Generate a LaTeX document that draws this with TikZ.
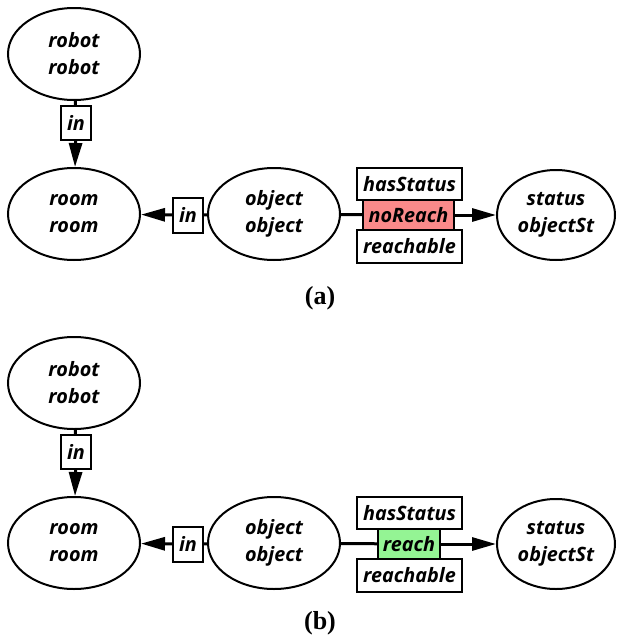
\documentclass[tikz,border=0pt]{standalone}
\usepackage{fontspec}
\usepackage{xcolor}
\usepackage{tikz}
\usetikzlibrary{shapes.geometric,arrows.meta}
\setmainfont{Liberation Serif}
\newfontfamily\labelfont{Open Sans}

\definecolor{noreachred}{RGB}{250,138,138}
\definecolor{reachgreen}{RGB}{148,244,148}

\tikzset{
    entity/.style={draw, ellipse, line width=2pt, minimum width=132pt, minimum height=92pt,
        inner sep=0pt, align=center, font=\labelfont\bfseries\itshape\fontsize{19.8}{27}\selectfont},
    relbox/.style={draw, rectangle, line width=2pt, inner sep=0pt, align=center,
        font=\labelfont\bfseries\itshape\fontsize{19.8}{22}\selectfont},
    edge/.style={line width=3pt},
    arrowedge/.style={line width=3pt, -{Triangle[length=24pt, width=13pt]}},
    caption/.style={font=\bfseries\fontsize{26}{28}\selectfont}
}

\begin{document}
\begin{tikzpicture}[x=1pt, y=-1pt]
        \useasboundingbox (0,0) rectangle (623,640);

        % Panel (a)
        \node [entity] (robotA) at (74, 54) {robot\\robot};
        \node [entity] (roomA) at (74, 214) {room\\room};
        \node [entity] (objectA) at (274, 214) {object\\object};
        \node [entity, minimum width=118pt, minimum height=90pt] (statusA) at (556, 215) {status\\objectSt};

        \node [relbox, minimum width=30pt, minimum height=34pt] (inRobotA) at (76, 123) {in};
        \node [relbox, minimum width=30pt, minimum height=35pt] (inObjectA) at (188, 215) {in};

        \draw [edge] (robotA) -- (inRobotA);
        \draw [arrowedge] (inRobotA) -- (roomA);
        \draw [edge] (objectA) -- (inObjectA);
        \draw [arrowedge] (inObjectA) -- (roomA);

        \node [relbox, minimum width=91pt, minimum height=30pt, fill=noreachred] (valueA) at (408.5, 215) {noReach};
        \draw [edge] (objectA) -- (valueA);
        \draw [arrowedge] (valueA) -- (statusA);
        \node [relbox, minimum width=105pt, minimum height=32pt, fill=white] (hasStatusA) at (409.5, 184) {hasStatus};
        \node [relbox, minimum width=105pt, minimum height=33pt, fill=white] (reachableA) at (409.5, 246.5) {reachable};

        \node [caption] (captionA) at (320, 298) {(a)};

        % Panel (b)
        \node [entity] (robotB) at (74, 383) {robot\\robot};
        \node [entity] (roomB) at (74, 543) {room\\room};
        \node [entity] (objectB) at (274, 543) {object\\object};
        \node [entity, minimum width=118pt, minimum height=90pt] (statusB) at (556, 544) {status\\objectSt};

        \node [relbox, minimum width=30pt, minimum height=34pt] (inRobotB) at (76, 452) {in};
        \node [relbox, minimum width=30pt, minimum height=35pt] (inObjectB) at (188, 544) {in};

        \draw [edge] (robotB) -- (inRobotB);
        \draw [arrowedge] (inRobotB) -- (roomB);
        \draw [edge] (objectB) -- (inObjectB);
        \draw [arrowedge] (inObjectB) -- (roomB);

        \node [relbox, minimum width=62pt, minimum height=30pt, fill=reachgreen] (valueB) at (409, 544) {reach};
        \draw [edge] (objectB) -- (valueB);
        \draw [arrowedge] (valueB) -- (statusB);
        \node [relbox, minimum width=105pt, minimum height=32pt, fill=white] (hasStatusB) at (409.5, 513) {hasStatus};
        \node [relbox, minimum width=105pt, minimum height=33pt, fill=white] (reachableB) at (409.5, 575.5) {reachable};

        \node [caption] (captionB) at (320, 623) {(b)};
    \end{tikzpicture}
\end{document}
